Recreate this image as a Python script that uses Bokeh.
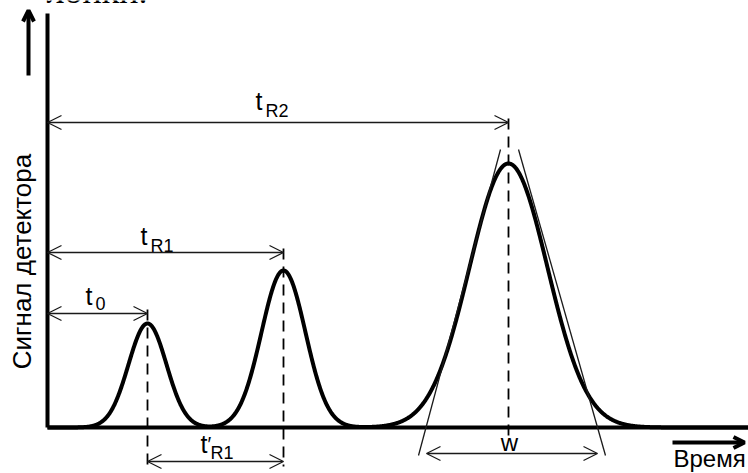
import numpy as np
from bokeh.plotting import figure
from bokeh.models import Arrow, OpenHead, Range1d
from bokeh.core.properties import value
from bokeh.embed import file_html
from bokeh.resources import INLINE

# ---- data (time units, signal units) ----
peak_names = ["t0", "tR1", "tR2"]
peak_times = [10.0, 23.6, 46.1]      # retention times
peak_heights = [10.4, 15.7, 26.4]    # detector signal at the peak maximum
peak_sigmas = [1.9, 2.2, 3.9]        # peak spreads
w_bounds = [37.9, 55.0]              # base width of the third peak (tangent intercepts)
tangent_left_t = [37.1, 45.3]
tangent_left_s = [-2.8, 27.8]
tangent_right_t = [47.1, 55.8]
tangent_right_s = [27.8, -2.8]

x_label = "Время"
y_label = "Сигнал детектора"
top_fragment = "лонки."

# ---- figure ----
p = figure(width=748, height=473, x_range=Range1d(-4.7, 70.1), y_range=Range1d(-4.6, 42.7),
           output_backend="svg", toolbar_location=None, min_border=0,
           x_axis_type=None, y_axis_type=None)
p.grid.visible = False
p.outline_line_color = None
p.background_fill_color = "white"

FONT = "Liberation Sans"
THIN = "#1a1a1a"

# chromatogram curve
t = np.linspace(0.0, 70.1, 2000)
s = np.zeros_like(t)
for mu, h, sg in zip(peak_times, peak_heights, peak_sigmas):
    s += h * np.exp(-0.5 * ((t - mu) / sg) ** 2)
p.line(t, s, line_width=4, line_color="black", line_join="round")

# axes lines
p.segment(x0=[0, 0], y0=[0, 0], x1=[0, 70.1], y1=[41.4, 0], line_width=4, line_color="black")

# axis direction arrows
p.add_layout(Arrow(end=OpenHead(size=11, line_width=4, line_color="black"),
                   x_start=-1.9, y_start=35.2, x_end=-1.9, y_end=41.7,
                   line_width=4, line_color="black"))
p.add_layout(Arrow(end=OpenHead(size=11, line_width=4, line_color="black"),
                   x_start=62.5, y_start=-1.5, x_end=69.7, y_end=-1.5,
                   line_width=4, line_color="black"))

# tangents of third peak
p.line(tangent_left_t, tangent_left_s, line_width=1.3, line_color=THIN)
p.line(tangent_right_t, tangent_right_s, line_width=1.3, line_color=THIN)

# dimension arrows
lv_t0, lv_r1, lv_r2, lv_r1p, lv_w = 11.4, 17.5, 30.5, -3.4, -2.6

def dim(x0, x1, y):
    p.add_layout(Arrow(start=OpenHead(size=14, line_width=1.3, line_color=THIN),
                       end=OpenHead(size=14, line_width=1.3, line_color=THIN),
                       x_start=x0, y_start=y, x_end=x1, y_end=y,
                       line_width=1.3, line_color=THIN))

dim(0, peak_times[0], lv_t0)
dim(0, peak_times[1], lv_r1)
dim(0, peak_times[2], lv_r2)
dim(peak_times[0], peak_times[1], lv_r1p)
dim(w_bounds[0], w_bounds[1], lv_w)

# dashed verticals through peak maxima
p.segment(x0=peak_times, y0=[lv_t0 + 0.4, lv_r1 + 0.4, lv_r2 + 0.4],
          x1=peak_times, y1=[-3.9, -3.9, -1.0],
          line_width=1.8, line_color="black", line_dash="11 7")

# labels with subscripts (y = intended baseline; small lift compensates renderer offset)
def lab(x, y, txt, size, align="left", font=FONT):
    p.text(x=[x], y=[y + 0.04 * size], text=[txt], text_font=value(font),
           text_font_size=f"{size}px", text_color="black", text_align=align,
           text_baseline="alphabetic")

lab(3.8, 12.2, "t", 25)
lab(4.8, 11.7, "0", 18)
lab(9.3, 18.2, "t", 25)
lab(10.3, 17.4, "R1", 18)
lab(20.8, 31.7, "t", 25)
lab(21.8, 30.9, "R2", 18)
lab(15.3, -2.6, "t", 25)
lab(16.0, -2.4, "′", 20)
lab(16.3, -3.3, "R1", 18)
lab(46.2, -2.5, "w", 24, align="center")

# axis titles
lab(62.6, -4.1, x_label, 24)
p.text(x=[-2.6], y=[16.6], text=[y_label], angle=np.pi / 2, text_font=value(FONT),
       text_font_size="26px", text_color="black", text_align="center", text_baseline="middle")

# cut-off fragment of preceding document text
lab(10.0, 42.2, top_fragment, 36, align="right", font="Liberation Serif")

open("out.html", "w").write(file_html(p, INLINE))
